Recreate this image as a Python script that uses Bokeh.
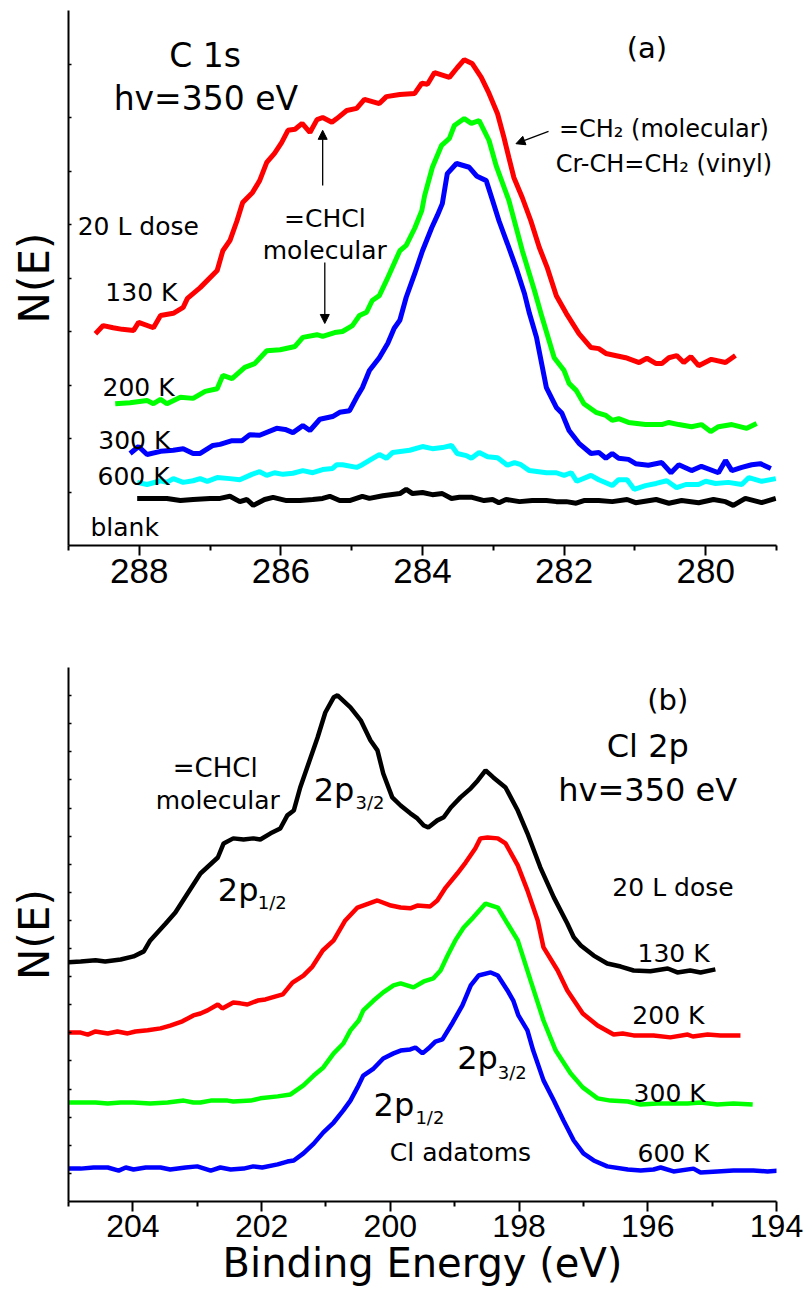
from bokeh.plotting import figure
from bokeh.layouts import column
from bokeh.models import Range1d, FixedTicker, Arrow, NormalHead
from bokeh.core.properties import value
from bokeh.embed import file_html
from bokeh.resources import INLINE

FONT = "DejaVu Sans"
TICKFONT = "Liberation Sans"

# ---------------- Panel (a): C 1s, (binding energy eV, N(E) arb.) ----------------
c1s_130K = [(288.62, 3.96), (288.51, 4.11), (288.37, 4.07), (288.24, 4.04), (288.08, 4.02), (288.01, 4.17),
            (287.80, 4.07), (287.70, 4.30), (287.52, 4.34), (287.38, 4.45), (287.32, 4.62), (287.14, 4.82),
            (286.90, 5.14), (286.82, 5.51), (286.72, 5.70), (286.62, 6.07), (286.54, 6.41), (286.40, 6.60),
            (286.30, 6.82), (286.20, 7.16), (286.09, 7.33), (285.99, 7.53), (285.90, 7.76), (285.80, 7.78),
            (285.70, 7.89), (285.59, 7.72), (285.49, 7.96), (285.41, 8.00), (285.28, 7.91), (285.21, 7.98),
            (285.07, 8.13), (284.93, 8.17), (284.82, 8.34), (284.61, 8.26), (284.51, 8.39), (284.32, 8.43),
            (284.11, 8.45), (284.01, 8.64), (283.93, 8.62), (283.83, 8.84), (283.62, 8.75), (283.51, 8.93),
            (283.41, 9.08), (283.30, 9.01), (283.17, 8.75), (283.06, 8.45), (282.94, 8.07), (282.85, 7.63),
            (282.78, 7.25), (282.71, 6.88), (282.59, 6.50), (282.47, 6.07), (282.35, 5.57), (282.24, 5.20),
            (282.11, 4.67), (281.97, 4.34), (281.79, 3.96), (281.62, 3.70), (281.51, 3.68), (281.41, 3.59),
            (281.13, 3.51), (280.94, 3.42), (280.83, 3.50), (280.70, 3.40), (280.62, 3.40), (280.52, 3.51),
            (280.41, 3.55), (280.31, 3.42), (280.21, 3.53), (280.10, 3.36), (279.92, 3.48), (279.72, 3.42),
            (279.58, 3.55)]

c1s_200K = [(288.34, 2.65), (288.13, 2.67), (287.89, 2.71), (287.80, 2.65), (287.70, 2.73), (287.61, 2.65),
            (287.42, 2.77), (287.24, 2.75), (287.07, 2.88), (286.90, 2.93), (286.82, 3.18), (286.69, 3.12),
            (286.51, 3.33), (286.37, 3.40), (286.20, 3.64), (286.01, 3.66), (285.80, 3.72), (285.69, 3.89),
            (285.49, 3.94), (285.41, 3.91), (285.24, 3.98), (285.13, 4.00), (284.99, 4.11), (284.89, 4.30),
            (284.79, 4.36), (284.71, 4.58), (284.61, 4.67), (284.51, 4.95), (284.32, 5.51), (284.23, 5.61),
            (284.11, 5.93), (284.01, 6.26), (283.97, 6.54), (283.86, 7.07), (283.73, 7.48), (283.62, 7.61),
            (283.55, 7.85), (283.41, 7.98), (283.31, 7.89), (283.20, 7.94), (283.06, 7.57), (282.96, 7.10),
            (282.78, 6.45), (282.59, 5.51), (282.42, 4.77), (282.31, 4.26), (282.14, 3.51), (282.00, 3.27),
            (281.93, 3.03), (281.83, 2.90), (281.72, 2.65), (281.55, 2.49), (281.41, 2.43), (281.32, 2.34),
            (281.23, 2.37), (281.09, 2.30), (280.85, 2.26), (280.62, 2.26), (280.52, 2.30), (280.38, 2.26),
            (280.20, 2.22), (280.06, 2.26), (279.93, 2.13), (279.82, 2.22), (279.63, 2.26), (279.42, 2.19),
            (279.28, 2.28)]

c1s_300K = [(288.13, 1.72), (288.01, 1.85), (287.89, 1.70), (287.70, 1.76), (287.52, 1.78), (287.38, 1.81),
            (287.24, 1.72), (287.14, 1.72), (286.96, 1.87), (286.86, 1.89), (286.69, 1.96), (286.55, 1.96),
            (286.44, 2.07), (286.30, 2.06), (286.06, 2.19), (285.94, 2.17), (285.83, 2.11), (285.69, 2.24),
            (285.59, 2.15), (285.45, 2.36), (285.27, 2.41), (285.17, 2.49), (285.03, 2.52), (284.93, 2.77),
            (284.85, 2.95), (284.75, 3.27), (284.61, 3.51), (284.49, 3.78), (284.40, 4.06), (284.32, 4.21),
            (284.23, 4.64), (284.11, 5.08), (284.00, 5.51), (283.87, 5.94), (283.79, 6.17), (283.72, 6.39),
            (283.65, 6.95), (283.52, 7.14), (283.34, 7.07), (283.23, 6.90), (283.10, 6.82), (283.01, 6.45),
            (282.92, 6.07), (282.80, 5.64), (282.68, 5.20), (282.56, 4.71), (282.49, 4.34), (282.39, 3.89),
            (282.25, 2.95), (282.11, 2.58), (282.03, 2.47), (281.93, 2.15), (281.79, 1.91), (281.62, 1.72),
            (281.51, 1.74), (281.41, 1.63), (281.32, 1.72), (281.23, 1.63), (281.09, 1.61), (280.99, 1.53),
            (280.81, 1.50), (280.62, 1.55), (280.49, 1.36), (280.38, 1.51), (280.20, 1.40), (280.06, 1.48),
            (279.82, 1.36), (279.72, 1.59), (279.63, 1.40), (279.49, 1.46), (279.35, 1.51), (279.23, 1.53),
            (279.08, 1.44)]

c1s_600K = [(288.03, 1.18), (287.89, 1.14), (287.70, 1.21), (287.61, 1.18), (287.52, 1.25), (287.38, 1.18),
            (287.24, 1.21), (287.14, 1.25), (287.04, 1.20), (286.90, 1.27), (286.72, 1.25), (286.58, 1.23),
            (286.41, 1.33), (286.30, 1.38), (286.20, 1.31), (286.09, 1.36), (285.97, 1.33), (285.83, 1.35),
            (285.69, 1.40), (285.55, 1.36), (285.41, 1.42), (285.27, 1.44), (285.21, 1.51), (285.13, 1.51),
            (284.93, 1.46), (284.85, 1.51), (284.75, 1.59), (284.61, 1.70), (284.51, 1.63), (284.42, 1.74),
            (284.18, 1.78), (284.00, 1.85), (283.86, 1.81), (283.72, 1.83), (283.59, 1.87), (283.51, 1.72),
            (283.38, 1.68), (283.31, 1.63), (283.20, 1.74), (283.08, 1.66), (282.94, 1.64), (282.80, 1.50),
            (282.70, 1.55), (282.61, 1.51), (282.49, 1.40), (282.25, 1.36), (282.11, 1.36), (282.00, 1.31),
            (281.90, 1.36), (281.82, 1.20), (281.62, 1.31), (281.51, 1.23), (281.32, 1.12), (281.23, 1.23),
            (281.11, 1.23), (281.01, 1.05), (280.85, 1.12), (280.70, 1.16), (280.55, 1.21), (280.41, 1.08),
            (280.28, 1.14), (280.10, 1.14), (280.00, 1.20), (279.86, 1.16), (279.68, 1.18), (279.49, 1.14),
            (279.39, 1.27), (279.21, 1.20), (279.01, 1.25)]

c1s_blank = [(288.03, 0.88), (287.80, 0.88), (287.61, 0.88), (287.42, 0.84), (287.24, 0.86), (287.00, 0.88),
             (286.86, 0.88), (286.72, 0.92), (286.58, 0.82), (286.48, 0.86), (286.39, 0.75), (286.23, 0.86),
             (286.11, 0.90), (285.92, 0.84), (285.73, 0.84), (285.55, 0.86), (285.41, 0.88), (285.31, 0.92),
             (285.17, 0.84), (285.03, 0.84), (284.85, 0.92), (284.75, 0.88), (284.56, 0.93), (284.32, 0.97),
             (284.23, 1.05), (284.14, 0.97), (284.00, 0.99), (283.86, 0.95), (283.72, 0.97), (283.59, 0.88),
             (283.48, 0.90), (283.30, 0.90), (283.13, 0.84), (283.01, 0.86), (282.92, 0.80), (282.82, 0.86),
             (282.63, 0.82), (282.45, 0.84), (282.25, 0.84), (282.11, 0.82), (281.97, 0.82), (281.83, 0.79),
             (281.72, 0.84), (281.51, 0.84), (281.32, 0.82), (281.11, 0.86), (280.99, 0.80), (280.70, 0.86),
             (280.52, 0.79), (280.34, 0.84), (280.10, 0.80), (279.89, 0.86), (279.72, 0.82), (279.61, 0.75),
             (279.44, 0.88), (279.21, 0.80), (279.01, 0.88)]

c1s_series = [("130 K", c1s_130K, "#ff0000"), ("200 K", c1s_200K, "#00ff00"),
              ("300 K", c1s_300K, "#0000ff"), ("600 K", c1s_600K, "#00ffff"),
              ("blank", c1s_blank, "#000000")]
c1s_major_ticks = [280, 282, 284, 286, 288]
c1s_minor_ticks = [279, 281, 283, 285, 287, 289]

# ---------------- Panel (b): Cl 2p ----------------
cl2p_130K = [(205.00, 8.51), (204.81, 8.54), (204.58, 8.58), (204.43, 8.54), (204.19, 8.61), (203.99, 8.72),
             (203.83, 8.90), (203.73, 9.29), (203.49, 9.89), (203.34, 10.28), (203.15, 10.96), (202.95, 11.67),
             (202.68, 12.24), (202.59, 12.74), (202.44, 12.92), (202.28, 12.88), (202.13, 12.92), (202.02, 12.88),
             (201.86, 13.10), (201.71, 13.27), (201.60, 13.74), (201.50, 13.91), (201.40, 14.73), (201.13, 16.51),
             (201.01, 17.40), (200.88, 17.94), (200.82, 18.01), (200.62, 17.58), (200.46, 17.12), (200.31, 16.41),
             (200.20, 16.05), (200.11, 15.23), (199.97, 14.38), (199.84, 14.09), (199.69, 13.81), (199.58, 13.63),
             (199.48, 13.38), (199.41, 13.31), (199.27, 13.56), (199.17, 13.67), (199.06, 14.02), (198.91, 14.38),
             (198.75, 14.70), (198.64, 14.98), (198.52, 15.34), (198.40, 15.09), (198.21, 14.73), (198.02, 13.91),
             (197.87, 13.10), (197.67, 11.89), (197.46, 10.82), (197.25, 9.89), (197.15, 9.40), (197.04, 9.11),
             (196.84, 8.75), (196.63, 8.47), (196.42, 8.36), (196.22, 8.22), (195.96, 8.19), (195.69, 8.29),
             (195.54, 8.15), (195.34, 8.22), (195.18, 8.15), (194.95, 8.26)]

cl2p_200K = [(205.00, 6.01), (204.81, 6.01), (204.70, 5.94), (204.58, 6.05), (204.39, 5.98), (204.24, 6.05),
             (204.08, 5.98), (203.96, 6.05), (203.77, 6.09), (203.57, 6.16), (203.42, 6.26), (203.23, 6.41),
             (203.06, 6.62), (202.95, 6.69), (202.84, 6.80), (202.68, 7.01), (202.61, 6.87), (202.44, 7.08),
             (202.33, 7.05), (202.22, 7.01), (202.06, 7.15), (201.94, 7.19), (201.78, 7.30), (201.67, 7.37),
             (201.52, 7.79), (201.35, 8.04), (201.21, 8.36), (201.05, 8.93), (200.88, 9.29), (200.70, 10.00),
             (200.51, 10.46), (200.20, 10.71), (199.99, 10.53), (199.84, 10.46), (199.69, 10.43), (199.58, 10.53),
             (199.38, 10.50), (199.27, 10.71), (199.14, 11.17), (198.96, 11.67), (198.83, 12.06), (198.68, 12.56),
             (198.60, 12.92), (198.49, 12.95), (198.33, 12.92), (198.21, 12.74), (198.02, 11.96), (197.87, 11.07),
             (197.71, 10.00), (197.62, 9.04), (197.40, 8.22), (197.25, 7.51), (197.01, 6.69), (196.78, 6.26),
             (196.53, 5.94), (196.39, 5.98), (196.22, 5.91), (195.91, 5.91), (195.65, 5.84), (195.38, 5.94),
             (195.30, 5.87), (195.07, 5.94), (194.87, 5.91), (194.56, 5.91)]

cl2p_300K = [(205.00, 3.52), (204.81, 3.52), (204.58, 3.52), (204.39, 3.49), (204.19, 3.52), (203.99, 3.52),
             (203.73, 3.49), (203.46, 3.52), (203.21, 3.59), (203.06, 3.52), (202.95, 3.52), (202.79, 3.59),
             (202.53, 3.59), (202.44, 3.56), (202.17, 3.59), (202.02, 3.67), (201.75, 3.74), (201.55, 3.81),
             (201.35, 4.13), (201.19, 4.48), (201.04, 4.77), (200.88, 5.27), (200.73, 5.62), (200.62, 6.09),
             (200.49, 6.44), (200.42, 6.80), (200.26, 7.15), (200.11, 7.44), (199.95, 7.69), (199.84, 7.76),
             (199.64, 7.62), (199.48, 7.83), (199.33, 7.94), (199.22, 8.22), (199.11, 8.75), (198.99, 9.29),
             (198.86, 9.75), (198.71, 10.11), (198.52, 10.60), (198.33, 10.46), (198.18, 9.89), (198.02, 9.29),
             (197.82, 7.86), (197.62, 6.44), (197.43, 5.37), (197.20, 4.56), (197.01, 4.06), (196.78, 3.67),
             (196.58, 3.59), (196.31, 3.56), (196.11, 3.45), (195.85, 3.49), (195.60, 3.49), (195.38, 3.49),
             (195.18, 3.52), (194.92, 3.45), (194.67, 3.49), (194.37, 3.45)]

cl2p_600K = [(205.00, 1.17), (204.81, 1.17), (204.61, 1.21), (204.39, 1.21), (204.22, 1.10), (204.11, 1.21),
             (203.99, 1.14), (203.80, 1.21), (203.57, 1.21), (203.42, 1.14), (203.18, 1.21), (203.00, 1.25),
             (202.79, 1.10), (202.64, 1.21), (202.48, 1.14), (202.28, 1.17), (202.13, 1.25), (201.99, 1.21),
             (201.75, 1.32), (201.60, 1.42), (201.50, 1.46), (201.35, 1.71), (201.19, 2.06), (201.04, 2.46),
             (200.88, 2.81), (200.73, 3.24), (200.62, 3.59), (200.51, 4.06), (200.42, 4.48), (200.26, 4.73),
             (200.11, 5.09), (199.95, 5.27), (199.84, 5.37), (199.69, 5.41), (199.61, 5.48), (199.50, 5.27),
             (199.41, 5.44), (199.30, 5.69), (199.19, 5.77), (199.03, 6.37), (198.88, 6.98), (198.75, 7.69),
             (198.63, 8.04), (198.44, 8.15), (198.33, 8.04), (198.18, 7.51), (198.09, 7.15), (198.01, 6.62),
             (197.87, 6.09), (197.78, 5.37), (197.62, 4.31), (197.46, 3.59), (197.31, 2.88), (197.15, 2.17),
             (197.00, 1.71), (196.84, 1.46), (196.63, 1.25), (196.31, 1.14), (196.11, 1.10), (195.91, 1.14),
             (195.80, 1.21), (195.60, 1.07), (195.29, 1.17), (195.18, 1.03), (194.92, 1.07), (194.67, 1.10),
             (194.36, 1.10), (194.14, 1.07), (193.98, 1.10)]

cl2p_series = [("130 K", cl2p_130K, "#000000"), ("200 K", cl2p_200K, "#ff0000"),
               ("300 K", cl2p_300K, "#00ff00"), ("600 K", cl2p_600K, "#0000ff")]
cl2p_major_ticks = [194, 196, 198, 200, 202, 204]
cl2p_minor_ticks = [195, 197, 199, 201, 203, 205]


def style(p, major, minor, yticks, tick_size):
    p.outline_line_color = None
    p.grid.visible = False
    p.background_fill_color = "white"
    p.border_fill_color = "white"
    xa = p.xaxis[0]
    xa.ticker = FixedTicker(ticks=major, minor_ticks=minor)
    xa.axis_line_width = 2
    xa.major_tick_line_width = 2
    xa.minor_tick_line_width = 2
    xa.major_tick_out = 10
    xa.major_tick_in = 0
    xa.minor_tick_out = 5
    xa.minor_tick_in = 0
    xa.major_label_text_font = TICKFONT
    xa.major_label_text_font_size = tick_size
    xa.major_label_text_color = "black"
    xa.major_label_standoff = 3
    ya = p.yaxis[0]
    ya.ticker = FixedTicker(ticks=yticks, minor_ticks=[])
    ya.axis_line_width = 2
    ya.major_tick_line_width = 1.5
    ya.major_tick_in = 3
    ya.major_tick_out = 0
    ya.minor_tick_in = 0
    ya.minor_tick_out = 0
    ya.major_label_text_color = None
    ya.major_label_text_alpha = 0
    ya.major_label_text_font_size = "1px"
    ya.major_label_standoff = 0
    ya.axis_label = "N(E)"
    ya.axis_label_text_font = FONT
    ya.axis_label_text_font_size = "42px"
    ya.axis_label_text_font_style = "normal"
    ya.axis_label_text_color = "black"
    ya.axis_label_standoff = 10


def txt(p, x, y, s, size, align="left"):
    p.text(x=[x], y=[y], text=[s], text_font=value(FONT), text_font_size=size,
           text_align=align, text_baseline="alphabetic", text_color="black")


# ---------- top figure ----------
top = figure(width=804, height=600, x_range=Range1d(289, 279), y_range=Range1d(0, 10),
             output_backend="svg", toolbar_location=None,
             min_border_left=68, min_border_right=27, min_border_top=10, min_border_bottom=55)
style(top, c1s_major_ticks, c1s_minor_ticks, list(range(1, 10)), "35px")

for name, pts, color in c1s_series:
    top.line([e for e, _ in pts], [v for _, v in pts], line_color=color, line_width=5)

txt(top, 287.07, 9.16, "C 1s", "33px", "center")
txt(top, 287.06, 8.36, "hv=350 eV", "33px", "center")
txt(top, 280.83, 9.29, "(a)", "29px", "center")
txt(top, 280.59, 7.79, "=CH\u2082 (molecular)", "24px", "center")
txt(top, 280.59, 7.14, "Cr-CH=CH\u2082 (vinyl)", "24px", "center")
txt(top, 288.87, 5.96, "20 L dose", "25px")
txt(top, 288.48, 4.73, "130 K", "25px")
txt(top, 288.52, 2.95, "200 K", "25px")
txt(top, 288.58, 1.96, "300 K", "25px")
txt(top, 288.59, 1.29, "600 K", "25px")
txt(top, 288.69, 0.34, "blank", "25px")
txt(top, 285.38, 6.11, "=CHCl", "25px", "center")
txt(top, 285.38, 5.51, "molecular", "25px", "center")

for xs, ys, xe, ye in [(285.41, 6.73, 285.41, 7.76), (285.38, 5.29, 285.38, 4.15),
                       (282.22, 7.74, 282.68, 7.51)]:
    top.add_layout(Arrow(end=NormalHead(size=9, fill_color="black", line_color="black", line_width=1),
                         x_start=xs, y_start=ys, x_end=xe, y_end=ye,
                         line_color="black", line_width=1.3))

# ---------- bottom figure ----------
bot = figure(width=804, height=691, x_range=Range1d(205, 194), y_range=Range1d(0, 19),
             output_backend="svg", toolbar_location=None,
             min_border_left=68, min_border_right=28, min_border_top=67, min_border_bottom=90)
style(bot, cl2p_major_ticks, cl2p_minor_ticks, list(range(1, 19)), "32px")
bot.xaxis[0].axis_label = "Binding Energy (eV)"
bot.xaxis[0].axis_label_text_font = FONT
bot.xaxis[0].axis_label_text_font_size = "40px"
bot.xaxis[0].axis_label_text_font_style = "normal"
bot.xaxis[0].axis_label_text_color = "black"
bot.xaxis[0].axis_label_standoff = 0

for name, pts, color in cl2p_series:
    bot.line([e for e, _ in pts], [v for _, v in pts], line_color=color, line_width=4.5)

txt(bot, 195.69, 17.83, "(b)", "29px", "center")
txt(bot, 196.00, 16.19, "Cl 2p", "32px", "center")
txt(bot, 196.00, 14.63, "hv=350 eV", "32px", "center")
txt(bot, 196.55, 11.17, "20 L dose", "25px")
txt(bot, 196.16, 8.83, "130 K", "25px")
txt(bot, 196.24, 6.62, "200 K", "25px")
txt(bot, 196.22, 3.84, "300 K", "25px")
txt(bot, 196.16, 1.71, "600 K", "25px")
txt(bot, 198.91, 1.74, "Cl adatoms", "25px", "center")
txt(bot, 202.72, 15.44, "=CHCl", "26px", "center")
txt(bot, 202.68, 14.27, "molecular", "25px", "center")
# spin-orbit component labels: main text + subscript
txt(bot, 201.19, 14.63, "2p", "32px")
txt(bot, 200.54, 14.20, "3/2", "18px")
txt(bot, 202.68, 11.07, "2p", "32px")
txt(bot, 202.06, 10.64, "1/2", "18px")
txt(bot, 198.96, 5.09, "2p", "32px")
txt(bot, 198.33, 4.59, "3/2", "18px")
txt(bot, 200.26, 3.45, "2p", "32px")
txt(bot, 199.61, 2.99, "1/2", "18px")

layout = column(top, bot, spacing=0)
open("out.html", "w").write(file_html(layout, INLINE))
